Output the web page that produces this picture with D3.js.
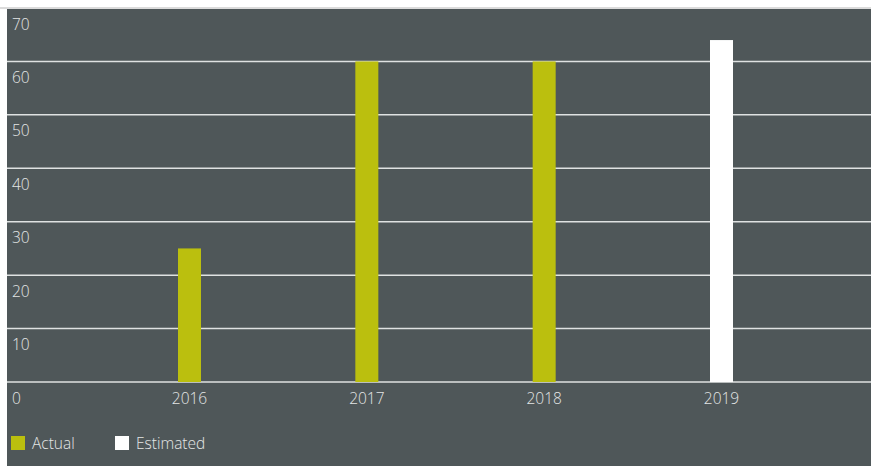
<!DOCTYPE html>
<html>
<head>
<meta charset="utf-8">
<script src="https://cdn.jsdelivr.net/npm/d3@7"></script>
<style>
  body { margin: 0; background: #fff; }
  text { font-family: "Open Sans", "Noto Sans", sans-serif; font-weight: 300; }
</style>
</head>
<body>
<svg id="chart"></svg>
<script>
// data
const years = ['2016', '2017', '2018', '2019'];
const values = [25, 60, 60, 64];
const kinds = ['Actual', 'Actual', 'Actual', 'Estimated'];
const yTicks = [0, 10, 20, 30, 40, 50, 60, 70];
const legendItems = ['Actual', 'Estimated'];

const width = 871;
const height = 466;
const colors = { Actual: '#bbbf0e', Estimated: '#ffffff' };

const svg = d3.select('#chart')
  .attr('width', width)
  .attr('height', height);

// dark panel
svg.append('rect')
  .attr('x', 7)
  .attr('y', 9)
  .attr('width', width - 7)
  .attr('height', height - 9)
  .attr('fill', '#4f5759');

// scales
const yScale = d3.scaleLinear()
  .domain([0, 70])
  .range([382, 8]);

const xScale = d3.scalePoint()
  .domain(years)
  .range([189.5, 721.5]);

// gridlines
svg.append('g')
  .selectAll('line')
  .data(yTicks)
  .enter()
  .append('line')
  .attr('x1', (d) => d === 70 ? 0 : 7)
  .attr('x2', width)
  .attr('y1', (d) => yScale(d))
  .attr('y2', (d) => yScale(d))
  .attr('stroke', (d) => d === 70 ? '#cfcfcf' : '#dfe2e2')
  .attr('stroke-width', 1.5);

// y labels (below their line)
svg.append('g')
  .selectAll('text')
  .data(yTicks)
  .enter()
  .append('text')
  .attr('x', 12)
  .attr('y', (d) => yScale(d) + 21.5)
  .attr('fill', '#e4e6e6')
  .style('font-size', '15.5px')
  .text((d) => d);

// bars
const barWidth = 23;
svg.append('g')
  .selectAll('rect')
  .data(values)
  .enter()
  .append('rect')
  .attr('x', (d, i) => xScale(years[i]) - barWidth / 2)
  .attr('y', (d) => yScale(d))
  .attr('width', barWidth)
  .attr('height', (d) => yScale(0) - yScale(d))
  .attr('fill', (d, i) => colors[kinds[i]]);

// x labels
svg.append('g')
  .selectAll('text')
  .data(years)
  .enter()
  .append('text')
  .attr('x', (d) => xScale(d))
  .attr('y', yScale(0) + 22)
  .attr('text-anchor', 'middle')
  .attr('fill', '#e4e6e6')
  .style('font-size', '15.5px')
  .text((d) => d);

// legend
const legend = svg.append('g')
  .selectAll('g')
  .data(legendItems)
  .enter()
  .append('g')
  .attr('transform', (d, i) => `translate(${11 + i * 104}, 436)`);

legend.append('rect')
  .attr('width', 14)
  .attr('height', 14)
  .attr('fill', (d) => colors[d]);

legend.append('text')
  .attr('x', 21)
  .attr('y', 13)
  .attr('fill', '#e4e6e6')
  .style('font-size', '15.5px')
  .text((d) => d);
</script>
</body>
</html>
